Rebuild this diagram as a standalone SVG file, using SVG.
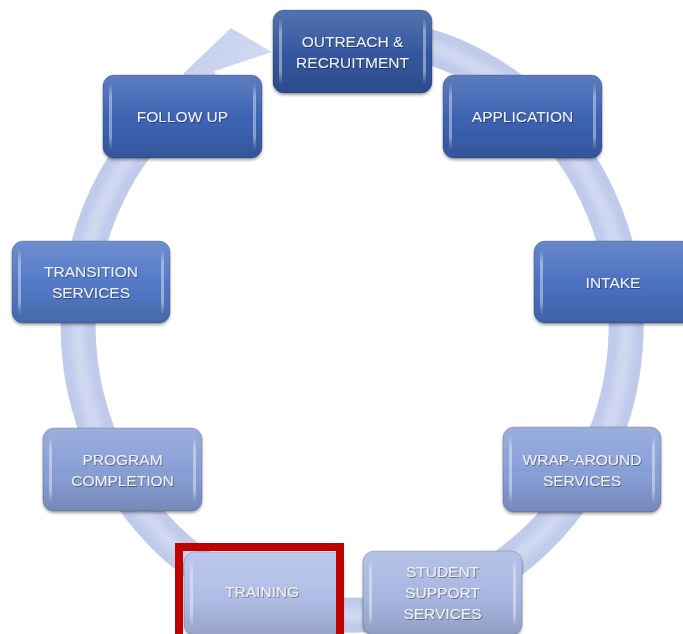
<svg xmlns="http://www.w3.org/2000/svg" width="683" height="634" viewBox="0 0 683 634">
  <defs>
    <linearGradient id="gloss" x1="0" y1="0" x2="0" y2="1">
      <stop offset="0" stop-color="#ffffff" stop-opacity="0.16"/>
      <stop offset="0.45" stop-color="#ffffff" stop-opacity="0.03"/>
      <stop offset="0.55" stop-color="#000000" stop-opacity="0"/>
      <stop offset="1" stop-color="#000000" stop-opacity="0.14"/>
    </linearGradient>
    <linearGradient id="strip" x1="0" y1="0" x2="0" y2="1">
      <stop offset="0" stop-color="#ffffff" stop-opacity="0"/>
      <stop offset="0.2" stop-color="#ffffff" stop-opacity="0.4"/>
      <stop offset="0.8" stop-color="#ffffff" stop-opacity="0.4"/>
      <stop offset="1" stop-color="#ffffff" stop-opacity="0"/>
    </linearGradient>
    <linearGradient id="headfill" x1="0" y1="0" x2="1" y2="0.3">
      <stop offset="0" stop-color="#c3cdec"/>
      <stop offset="1" stop-color="#d2daf2"/>
    </linearGradient>
    <filter id="shadow" x="-10%" y="-10%" width="120%" height="130%">
      <feDropShadow dx="0" dy="2" stdDeviation="1.8" flood-color="#000" flood-opacity="0.35"/>
    </filter>
    <filter id="tshadow" x="-10%" y="-20%" width="120%" height="150%">
      <feDropShadow dx="0.8" dy="1" stdDeviation="0.6" flood-color="#000" flood-opacity="0.4"/>
    </filter>
    <filter id="soft" x="-5%" y="-5%" width="110%" height="110%">
      <feGaussianBlur stdDeviation="2.5"/>
    </filter>
  </defs>
  <style>
    .box { stroke: #000; stroke-opacity: 0.18; stroke-width: 1; }
    .gl { fill: url(#gloss); }
    .st { fill: url(#strip); }
    .lbl { font-family: "Liberation Sans", Arial, sans-serif; font-size: 15.5px; fill: #eff1f6; text-anchor: middle; filter: url(#tshadow); }
    .band { fill: none; stroke: #c0cbec; stroke-width: 35; }
    .bandhi { fill: none; stroke: #cfd7f1; stroke-width: 14; filter: url(#soft); }
  </style>

  <rect width="683" height="634" fill="#ffffff"/>

  <g id="connectors">
    <path class="band" d="M400,39.5 A274,290 0 1 1 215,74"/>
    <path class="bandhi" d="M400,39.5 A274,290 0 1 1 215,74"/>
    <polygon points="184,73 231,28 272,52 200,76 205,110 185,110" fill="url(#headfill)"/>
  </g>

  <g id="outreach" filter="url(#shadow)">
    <rect class="box" x="273" y="10" width="159" height="83" rx="11" fill="#34579f"/>
    <rect class="gl" x="273" y="10" width="159" height="83" rx="11"/>
    <rect class="st" x="279" y="18" width="3" height="67" rx="1.5"/>
    <rect class="st" x="423" y="18" width="3" height="67" rx="1.5"/>
    <text class="lbl" x="352.5" y="47">OUTREACH &amp;</text>
    <text class="lbl" x="352.5" y="68">RECRUITMENT</text>
  </g>

  <g id="application" filter="url(#shadow)">
    <rect class="box" x="443" y="75" width="159" height="83" rx="11" fill="#3c62b2"/>
    <rect class="gl" x="443" y="75" width="159" height="83" rx="11"/>
    <rect class="st" x="449" y="83" width="3" height="67" rx="1.5"/>
    <rect class="st" x="593" y="83" width="3" height="67" rx="1.5"/>
    <text class="lbl" x="522.5" y="122">APPLICATION</text>
  </g>

  <g id="intake" filter="url(#shadow)">
    <rect class="box" x="534" y="241" width="159" height="82" rx="11" fill="#4a70c0"/>
    <rect class="gl" x="534" y="241" width="159" height="82" rx="11"/>
    <rect class="st" x="540" y="249" width="3" height="66" rx="1.5"/>
    <text class="lbl" x="613" y="287.5">INTAKE</text>
  </g>

  <g id="wraparound" filter="url(#shadow)">
    <rect class="box" x="503" y="427" width="158" height="85" rx="11" fill="#889fd7"/>
    <rect class="gl" x="503" y="427" width="158" height="85" rx="11"/>
    <rect class="st" x="509" y="435" width="3" height="69" rx="1.5"/>
    <rect class="st" x="652" y="435" width="3" height="69" rx="1.5"/>
    <text class="lbl" x="582" y="465">WRAP-AROUND</text>
    <text class="lbl" x="582" y="486">SERVICES</text>
  </g>

  <g id="studentsupport" filter="url(#shadow)">
    <rect class="box" x="363" y="551" width="159" height="84" rx="11" fill="#a8b7e2"/>
    <rect class="gl" x="363" y="551" width="159" height="84" rx="11"/>
    <rect class="st" x="369" y="559" width="3" height="68" rx="1.5"/>
    <rect class="st" x="513" y="559" width="3" height="68" rx="1.5"/>
    <text class="lbl" x="442.5" y="577">STUDENT</text>
    <text class="lbl" x="442.5" y="598">SUPPORT</text>
    <text class="lbl" x="442.5" y="619">SERVICES</text>
  </g>

  <g id="training" filter="url(#shadow)">
    <rect class="box" x="184" y="552" width="159" height="83" rx="11" fill="#b0bee7"/>
    <rect class="gl" x="184" y="552" width="159" height="83" rx="11"/>
    <rect class="st" x="190" y="560" width="3" height="67" rx="1.5"/>
    <text class="lbl" x="262" y="597">TRAINING</text>
  </g>
  <g id="training-highlight">
    <rect x="179" y="547" width="161" height="92" fill="none" stroke="#c00000" stroke-width="8"/>
  </g>

  <g id="programcompletion" filter="url(#shadow)">
    <rect class="box" x="43" y="428" width="159" height="83" rx="11" fill="#889fd6"/>
    <rect class="gl" x="43" y="428" width="159" height="83" rx="11"/>
    <rect class="st" x="49" y="436" width="3" height="67" rx="1.5"/>
    <rect class="st" x="193" y="436" width="3" height="67" rx="1.5"/>
    <text class="lbl" x="122.5" y="465">PROGRAM</text>
    <text class="lbl" x="122.5" y="486">COMPLETION</text>
  </g>

  <g id="transition" filter="url(#shadow)">
    <rect class="box" x="12" y="241" width="158" height="82" rx="11" fill="#5279c6"/>
    <rect class="gl" x="12" y="241" width="158" height="82" rx="11"/>
    <rect class="st" x="18" y="249" width="3" height="66" rx="1.5"/>
    <rect class="st" x="161" y="249" width="3" height="66" rx="1.5"/>
    <text class="lbl" x="91" y="277">TRANSITION</text>
    <text class="lbl" x="91" y="298">SERVICES</text>
  </g>

  <g id="followup" filter="url(#shadow)">
    <rect class="box" x="103" y="75" width="159" height="83" rx="11" fill="#3d63b3"/>
    <rect class="gl" x="103" y="75" width="159" height="83" rx="11"/>
    <rect class="st" x="109" y="83" width="3" height="67" rx="1.5"/>
    <rect class="st" x="253" y="83" width="3" height="67" rx="1.5"/>
    <text class="lbl" x="182.5" y="122">FOLLOW UP</text>
  </g>
</svg>
